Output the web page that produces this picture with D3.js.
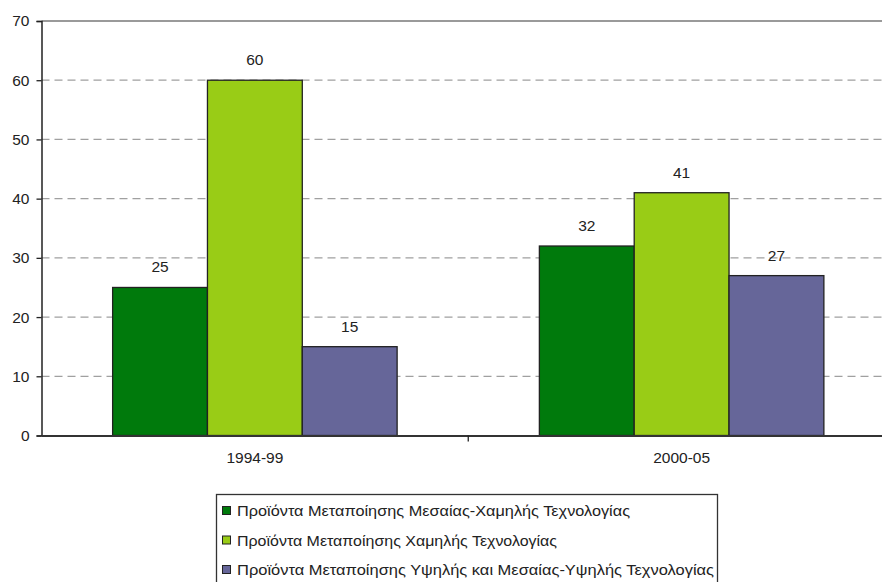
<!DOCTYPE html>
<html><head><meta charset="utf-8">
<script src="https://cdn.jsdelivr.net/npm/d3@7"></script>
<style>body{margin:0;background:#fff;overflow:hidden}svg{display:block}</style>
</head><body><svg id="c" width="882" height="582"></svg>
<script>
const categories = ["1994-99", "2000-05"];
const seriesNames = [
  "Προϊόντα Μεταποίησης Μεσαίας-Χαμηλής Τεχνολογίας",
  "Προϊόντα Μεταποίησης Χαμηλής Τεχνολογίας",
  "Προϊόντα Μεταποίησης Υψηλής και Μεσαίας-Υψηλής Τεχνολογίας"
];
const mediumLow = [25, 32];
const low = [60, 41];
const highMediumHigh = [15, 27];
const yTicks = [0, 10, 20, 30, 40, 50, 60, 70];
const colors = ["#007a0c", "#99cc16", "#666699"];

(function () {
const series = [mediumLow, low, highMediumHigh];
const legendWidths = [393, 320, 477];
const svg = d3.select("#c");
const font = "'Liberation Sans', Arial, sans-serif";
const fs = 15.5;
const mLeft = 41.5, mRight = 895, mTop = 21, mBottom = 435.5;

const x = d3.scaleBand().domain(categories).range([mLeft, mRight]).paddingInner(0).paddingOuter(0);
const y = d3.scaleLinear().domain([0, 70]).range([mBottom, mTop]);
const inner = d3.scaleBand().domain(d3.range(series.length)).range([0, x.bandwidth()]).paddingInner(0).paddingOuter(0.75);

// grid
svg.append("g").selectAll("line").data(yTicks.filter(t => t > 0 && t < 70)).join("line")
  .attr("x1", mLeft).attr("x2", 882).attr("y1", d => y(d)).attr("y2", d => y(d))
  .attr("stroke", "#a0a0a0").attr("stroke-width", 1.2).attr("stroke-dasharray", "8,5");
svg.append("line").attr("x1", mLeft).attr("x2", 882).attr("y1", y(70)).attr("y2", y(70))
  .attr("stroke", "#9a9a9a").attr("stroke-width", 2);

// bars
series.forEach((vals, si) => {
  svg.append("g").selectAll("rect").data(vals).join("rect")
    .attr("x", (d, i) => x(categories[i]) + inner(si))
    .attr("width", inner.bandwidth())
    .attr("y", d => y(d))
    .attr("height", d => y(0) - y(d))
    .attr("fill", colors[si]).attr("stroke", "#222").attr("stroke-width", 1.3);
  svg.append("g").selectAll("text").data(vals).join("text")
    .attr("x", (d, i) => x(categories[i]) + inner(si) + inner.bandwidth() / 2)
    .attr("y", d => y(d) - 15)
    .attr("text-anchor", "middle").attr("font-family", font).attr("font-size", fs).attr("fill", "#222")
    .text(d => d);
});

// y axis
const ya = svg.append("g").attr("transform", `translate(${mLeft},0)`)
  .call(d3.axisLeft(y).tickValues(yTicks).tickSize(5).tickPadding(7));
ya.select(".domain").attr("stroke", "#222").attr("stroke-width", 1.5);
ya.selectAll(".tick line").attr("stroke", "#222").attr("stroke-width", 1.3);
ya.selectAll("text").attr("font-family", font).attr("font-size", fs).attr("fill", "#222");

// x axis
const xa = svg.append("g").attr("transform", `translate(0,${mBottom})`)
  .call(d3.axisBottom(x).tickSize(0).tickPadding(16));
xa.select(".domain").attr("stroke", "#333").attr("stroke-width", 2.2);
xa.selectAll("text").attr("font-family", font).attr("font-size", fs).attr("fill", "#222");
svg.append("g").selectAll("line").data(categories.slice(1)).join("line")
  .attr("x1", d => x(d)).attr("x2", d => x(d)).attr("y1", mBottom).attr("y2", mBottom + 6)
  .attr("stroke", "#222").attr("stroke-width", 1.3);

// legend
const lg = svg.append("g");
lg.append("rect").attr("x", 216.5).attr("y", 494.5).attr("width", 501).attr("height", 100)
  .attr("fill", "#fff").attr("stroke", "#333").attr("stroke-width", 1.3);
seriesNames.forEach((n, i) => {
  const yy = 511 + i * 29.5;
  lg.append("rect").attr("x", 222.5).attr("y", yy - 4.5).attr("width", 8).attr("height", 8)
    .attr("fill", colors[i]).attr("stroke", "#222").attr("stroke-width", 1);
  lg.append("text").attr("x", 237).attr("y", yy + 5).attr("font-family", font)
    .attr("font-size", fs).attr("fill", "#222")
    .attr("textLength", legendWidths[i]).attr("lengthAdjust", "spacingAndGlyphs").text(n);
});
})();
</script></body></html>
